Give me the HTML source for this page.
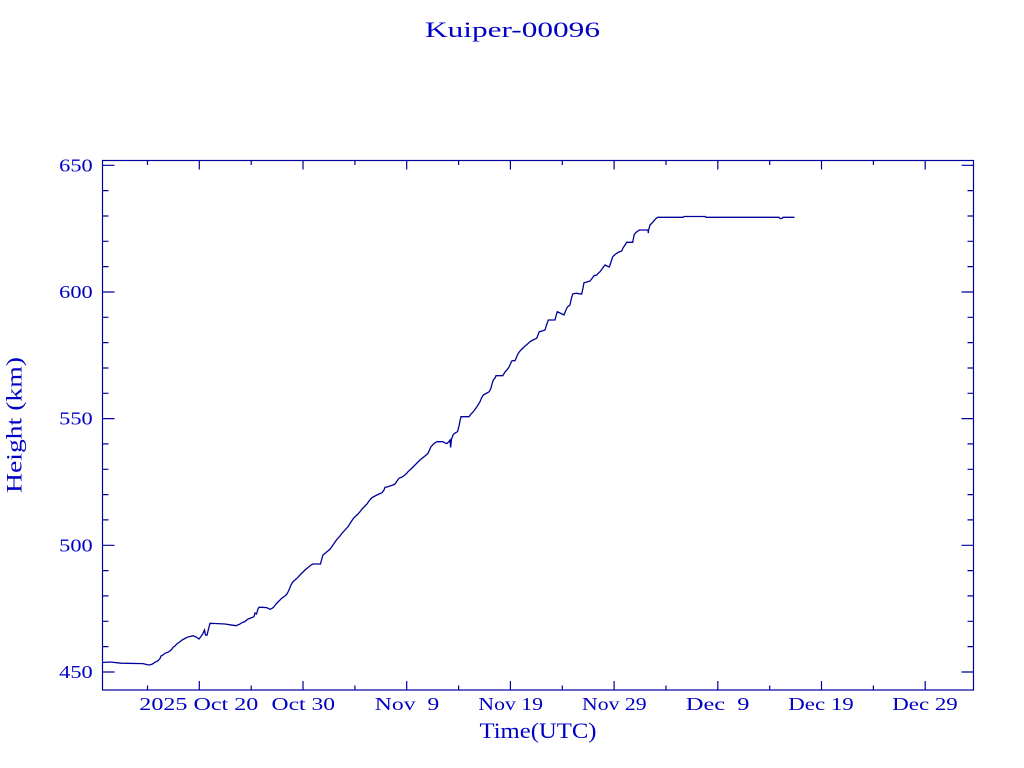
<!DOCTYPE html>
<html>
<head>
<meta charset="utf-8">
<style>
  html, body { margin: 0; padding: 0; background: #ffffff; }
  svg { display: block; }
  text { font-family: "Liberation Serif", serif; fill: #0000c4; }
</style>
</head>
<body>
<svg width="1024" height="768" viewBox="0 0 1024 768" xmlns="http://www.w3.org/2000/svg">
  <rect x="0" y="0" width="1024" height="768" fill="#ffffff"/>

  <!-- Title -->
  <text x="512.5" y="37" font-size="22" text-anchor="middle" textLength="175" lengthAdjust="spacingAndGlyphs">Kuiper-00096</text>

  <!-- Axis box -->
  <rect x="102.5" y="160.5" width="871" height="529.5" fill="none" stroke="#00009a" stroke-width="1.2"/>

  <g stroke="#00009a" stroke-width="1.2" fill="none">
    <path d="M102.5 165.3h12 M102.5 292h12 M102.5 418.6h12 M102.5 545.3h12 M102.5 672h12"/>
    <path d="M973.5 165.3h-12 M973.5 292h-12 M973.5 418.6h-12 M973.5 545.3h-12 M973.5 672h-12"/>
    <path d="M102.5 190.6h6 M102.5 216h6 M102.5 241.3h6 M102.5 266.6h6
             M102.5 317.3h6 M102.5 342.6h6 M102.5 368h6 M102.5 393.3h6
             M102.5 443.9h6 M102.5 469.3h6 M102.5 494.6h6 M102.5 519.9h6
             M102.5 570.6h6 M102.5 595.9h6 M102.5 621.3h6 M102.5 646.6h6"/>
    <path d="M973.5 190.6h-6 M973.5 216h-6 M973.5 241.3h-6 M973.5 266.6h-6
             M973.5 317.3h-6 M973.5 342.6h-6 M973.5 368h-6 M973.5 393.3h-6
             M973.5 443.9h-6 M973.5 469.3h-6 M973.5 494.6h-6 M973.5 519.9h-6
             M973.5 570.6h-6 M973.5 595.9h-6 M973.5 621.3h-6 M973.5 646.6h-6"/>
    <path d="M199.3 690v-9 M303 690v-9 M406.7 690v-9 M510.4 690v-9 M614.1 690v-9 M717.8 690v-9 M821.5 690v-9 M925.2 690v-9"/>
    <path d="M199.3 160.5v9 M303 160.5v9 M406.7 160.5v9 M510.4 160.5v9 M614.1 160.5v9 M717.8 160.5v9 M821.5 160.5v9 M925.2 160.5v9"/>
    <path d="M147.5 690v-4.5 M251.2 690v-4.5 M354.9 690v-4.5 M458.6 690v-4.5 M562.3 690v-4.5 M666 690v-4.5 M769.7 690v-4.5 M873.4 690v-4.5"/>
    <path d="M147.5 160.5v4.5 M251.2 160.5v4.5 M354.9 160.5v4.5 M458.6 160.5v4.5 M562.3 160.5v4.5 M666 160.5v4.5 M769.7 160.5v4.5 M873.4 160.5v4.5"/>
  </g>

  <!-- Y tick labels -->
  <g font-size="18" text-anchor="end">
    <text x="92.7" y="171.3" textLength="33.5" lengthAdjust="spacingAndGlyphs">650</text>
    <text x="92.7" y="298" textLength="33.5" lengthAdjust="spacingAndGlyphs">600</text>
    <text x="92.7" y="424.6" textLength="33.5" lengthAdjust="spacingAndGlyphs">550</text>
    <text x="92.7" y="551.3" textLength="33.5" lengthAdjust="spacingAndGlyphs">500</text>
    <text x="92.7" y="678" textLength="33.5" lengthAdjust="spacingAndGlyphs">450</text>
  </g>

  <!-- X tick labels -->
  <g font-size="18" text-anchor="middle">
    <text x="198.8" y="710" textLength="119" lengthAdjust="spacingAndGlyphs">2025 Oct 20</text>
    <text x="303.3" y="710" textLength="63.5" lengthAdjust="spacingAndGlyphs">Oct 30</text>
    <text x="407" y="710" textLength="64.5" lengthAdjust="spacingAndGlyphs">Nov&#160;&#160;9</text>
    <text x="510.7" y="710" textLength="64.5" lengthAdjust="spacingAndGlyphs">Nov 19</text>
    <text x="614.3" y="710" textLength="64.5" lengthAdjust="spacingAndGlyphs">Nov 29</text>
    <text x="717.7" y="710" textLength="63.5" lengthAdjust="spacingAndGlyphs">Dec&#160;&#160;9</text>
    <text x="821" y="710" textLength="65.5" lengthAdjust="spacingAndGlyphs">Dec 19</text>
    <text x="925" y="710" textLength="65.5" lengthAdjust="spacingAndGlyphs">Dec 29</text>
  </g>

  <!-- Axis titles -->
  <text x="538" y="738" font-size="22" text-anchor="middle" textLength="117" lengthAdjust="spacingAndGlyphs">Time(UTC)</text>
  <text x="0" y="0" font-size="22" text-anchor="middle" textLength="136" lengthAdjust="spacingAndGlyphs" transform="translate(21.5 425) rotate(-90)">Height (km)</text>

  <!-- Data curve -->
  <polyline fill="none" stroke="#00009a" stroke-width="1.3" stroke-linejoin="miter" points="
    102,662.5 110,662 121,663.2 143,663.6 147,664.6 149,665 152,664.3 155,662.3 158,660.7 160,658.5 161,656
    163,655 165,653.3 168,652.2 170,651 172,649 173,647.3 175,646 177,643.7 179,642.5 182,640
    184,639 187,637.3 190,636.5 193,635.7 196,637 199,639 201,636.5 203,633.3 204.5,630 205.5,635 207,635.3
    208.5,629 210,623.3 215,623.5 225,624 230,624.8 236,625.7 239,624.5 242,622.7 245,621.5 248,619 251,618
    254,616.7 255,613 256.5,614 258,609 259,607.3 263,607.3 267,607.7 270,609.3 272,608.5 274,606.7 276,604
    279,601 282,598 285,596 287,594 289,590 291,585 293,581.7 295,580 298,577.3 300,575 303,572 305,570
    308,567.5 311,565 313,564 317,564 320.5,564 321.5,560 323,555 326,552.5 330,549.3 333,545 335,542
    337,539.3 340,536 342,533.3 345,530 348,526.7 351,522 353,519 355,516.7 358,514 360,511.7 362,509
    364,507 367,504 369,501 372,497.7 375,496 379,494 382,492.7 384,490 385,487.3 387,487 390,486
    393,485 395,484 397,481 399,478.3 402,477 405,475 407,473 408,471.7 411,469 413,467 415,465
    418,462 420,460 422,458.3 425,456 428,453.3 429.5,450 431,446.7 434,443.5 437,441.7 440,441.7
    443,441.7 445,443 447,443.5 449,441.5 450,440 450.6,447.5 451.5,439 453.3,434.5 455,433 457.5,431.7
    459,426 460,421 461,416.7 465,416.7 469,416.7 471,414 473.3,411.7 476,408 478,405 480,401.7
    481.5,398 483.3,395 486,393.5 489.3,391.7 491,388 492,384 493.3,380 495,378 496,375.7 499,375.7
    502.7,375.7 505,372 508.3,368.3 510,365 511.7,361 513,360.7 515,360.7 517,356 518.5,353 520,351
    522,349 525,346 527,344.5 530,341.7 533,340 536.7,338.3 538,335 539.3,331.7 542,331 545,330
    546.5,325 548.3,320 551,320 555,320 556,316 557.3,311.7 560,313 562,314 564,315 565.5,311
    566.7,308.3 568,306.5 570,305 571,300 572.7,294 574.5,293.5 576.7,293.3 579,293.8 581.7,294 583,288
    584,282.7 587,282 590,281 592,278.5 594,275.7 596.7,275 598,273.5 600,271.7 602,269 605,265
    607,266 609.3,267 611,262 612.7,256.7 614.5,255 616.7,253.3 619,252 621.7,251 623,248 625,245
    626.7,242.3 629,242.3 632.7,242.3 633.5,238 634.3,234.3 636.5,232 639.3,230 644,230 648,230
    648.3,233 648.6,230 650,225 652,223 654,220.7 656,218.5 657.7,217.3 670,217.3 683,217.3 684,216.5
    695,216.5 705,216.5 706,217.3 740,217.3 779,217.3 780,218.5 782,218.5 783,217.3 794.5,217.3"/>
</svg>
</body>
</html>
